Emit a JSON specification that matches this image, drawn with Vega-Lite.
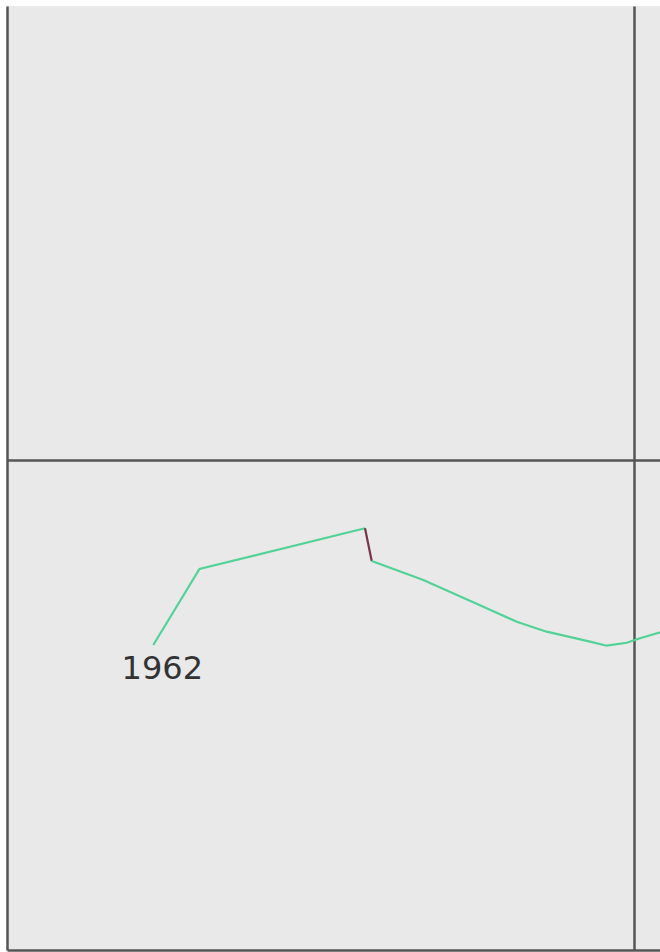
{
  "$schema": "https://vega.github.io/schema/vega-lite/v6.json",
  "width": 653,
  "height": 944,
  "autosize": {"type": "none"},
  "padding": {"left": 7, "top": 6, "right": 0, "bottom": 2},
  "background": "#ffffff",
  "config": {
    "view": {"fill": "#e9e9e9", "stroke": null},
    "axis": {"labels": false, "ticks": false, "domain": false, "title": null, "gridColor": "#555555", "gridWidth": 2.5, "gridOpacity": 1}
  },
  "datasets": {
    "path": [
      {"order": 1, "seg": "a", "x": 2.333, "y": 6.224},
      {"order": 2, "seg": "a", "x": 3.070, "y": 7.776},
      {"order": 3, "seg": "a", "x": 5.710, "y": 8.606},
      {"order": 3, "seg": "b", "x": 5.710, "y": 8.606},
      {"order": 4, "seg": "b", "x": 5.817, "y": 7.939},
      {"order": 4, "seg": "c", "x": 5.817, "y": 7.939},
      {"order": 5, "seg": "c", "x": 6.640, "y": 7.551},
      {"order": 6, "seg": "c", "x": 7.597, "y": 7.006},
      {"order": 7, "seg": "c", "x": 8.129, "y": 6.700},
      {"order": 8, "seg": "c", "x": 8.608, "y": 6.496},
      {"order": 9, "seg": "c", "x": 9.298, "y": 6.292},
      {"order": 10, "seg": "c", "x": 9.565, "y": 6.210},
      {"order": 11, "seg": "c", "x": 9.884, "y": 6.270},
      {"order": 12, "seg": "c", "x": 10.096, "y": 6.361},
      {"order": 13, "seg": "c", "x": 10.600, "y": 6.550}
    ],
    "labels": [
      {"x": 2.333, "y": 6.224, "label": "1962"}
    ]
  },
  "layer": [
    {
      "data": {"name": "path"},
      "mark": {"type": "line", "strokeWidth": 2.2, "clip": true},
      "encoding": {
        "x": {"field": "x", "type": "quantitative", "scale": {"domain": [0, 10.415], "nice": false, "zero": false}, "axis": {"values": [0, 10], "grid": true}},
        "y": {"field": "y", "type": "quantitative", "scale": {"domain": [0, 19.265], "nice": false, "zero": false}, "axis": {"values": [0, 10], "grid": true}},
        "order": {"field": "order", "type": "quantitative"},
        "detail": {"field": "seg", "type": "nominal"},
        "color": {"field": "seg", "type": "nominal", "scale": {"domain": ["a", "b", "c"], "range": ["#52d296", "#7a3448", "#52d296"]}, "legend": null}
      }
    },
    {
      "data": {"name": "labels"},
      "mark": {"type": "text", "font": "DejaVu Sans", "fontSize": 32, "color": "#333333", "dx": 9, "dy": 24, "align": "center", "baseline": "middle"},
      "encoding": {
        "x": {"field": "x", "type": "quantitative"},
        "y": {"field": "y", "type": "quantitative"},
        "text": {"field": "label"}
      }
    }
  ]
}
